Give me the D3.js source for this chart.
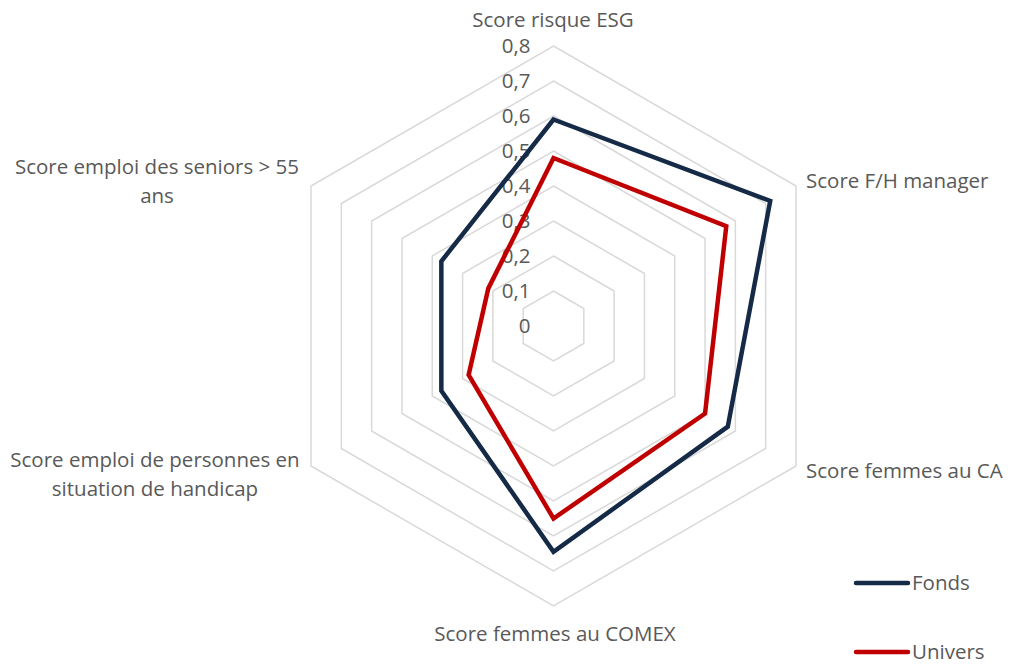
<!DOCTYPE html>
<html><head><meta charset="utf-8">
<script src="https://cdn.jsdelivr.net/npm/d3@7"></script>
<style>body{margin:0;background:#fff;} text{font-family:"Open Sans","Lato",sans-serif;}</style>
</head><body><svg id="c" width="1010" height="664"></svg>
<script>
const categories = ["Score risque ESG","Score F/H manager","Score femmes au CA","Score femmes au COMEX","Score emploi de personnes en situation de handicap","Score emploi des seniors > 55 ans"];
const fonds = [0.59, 0.715, 0.575, 0.645, 0.37, 0.37];
const univers = [0.48, 0.57, 0.50, 0.55, 0.28, 0.215];
const ticks = [0,0.1,0.2,0.3,0.4,0.5,0.6,0.7,0.8];
const tickLabels = ["0","0,1","0,2","0,3","0,4","0,5","0,6","0,7","0,8"];
const seriesNames = ["Fonds","Univers"];
const seriesColors = ["#152A46","#C00000"];

const FS = 20.5;
const svg = d3.select("#c");
const cx = 553.5, cy = 326;
const r = d3.scaleLinear().domain([0,0.8]).range([0,280]);
const ang = d3.scaleLinear().domain([0,categories.length]).range([0,2*Math.PI]);
const pt = (i,v)=>[cx + r(v)*Math.sin(ang(i)), cy - r(v)*Math.cos(ang(i))];

const g = svg.append("g");
ticks.slice(1).forEach(t=>{
  g.append("path").attr("d", d3.line()(categories.map((c,i)=>pt(i,t)))+"Z")
   .attr("fill","none").attr("stroke","#D9D9D9").attr("stroke-width",1.5);
});
ticks.forEach((t,i)=>{
  g.append("text").attr("x", cx-23).attr("y", cy - r(t)).attr("dy","0.35em")
   .attr("text-anchor","end").attr("fill","#595959").attr("font-size",FS).text(tickLabels[i]);
});
[fonds, univers].forEach((s,k)=>{
  g.append("path").attr("d", d3.line()(s.map((v,i)=>pt(i,v)))+"Z")
   .attr("fill","none").attr("stroke",seriesColors[k]).attr("stroke-width",4.5).attr("stroke-linejoin","miter");
});
const lab = svg.append("g").attr("fill","#595959").attr("font-size",FS);
function label(x,y,anchor,lines){
  const t = lab.append("text").attr("x",x).attr("y",y).attr("text-anchor",anchor);
  lines.forEach((l,i)=>t.append("tspan").attr("x",x).attr("dy", i===0?0:29).text(l));
}
label(553, 27, "middle", [categories[0]]);
label(806, 188, "start", [categories[1]]);
label(806, 478, "start", [categories[2]]);
label(555, 641, "middle", [categories[3]]);
label(155, 467, "middle", ["Score emploi de personnes en","situation de handicap"]);
label(157, 174, "middle", ["Score emploi des seniors > 55","ans"]);
seriesNames.forEach((n,k)=>{
  const y = 583 + k*69;
  svg.append("line").attr("x1",856).attr("x2",908).attr("y1",y).attr("y2",y)
    .attr("stroke",seriesColors[k]).attr("stroke-width",4.5).attr("stroke-linecap","round");
  svg.append("text").attr("x",912).attr("y",y).attr("dy","0.35em").attr("fill","#595959").attr("font-size",FS).text(n);
});
</script></body></html>
